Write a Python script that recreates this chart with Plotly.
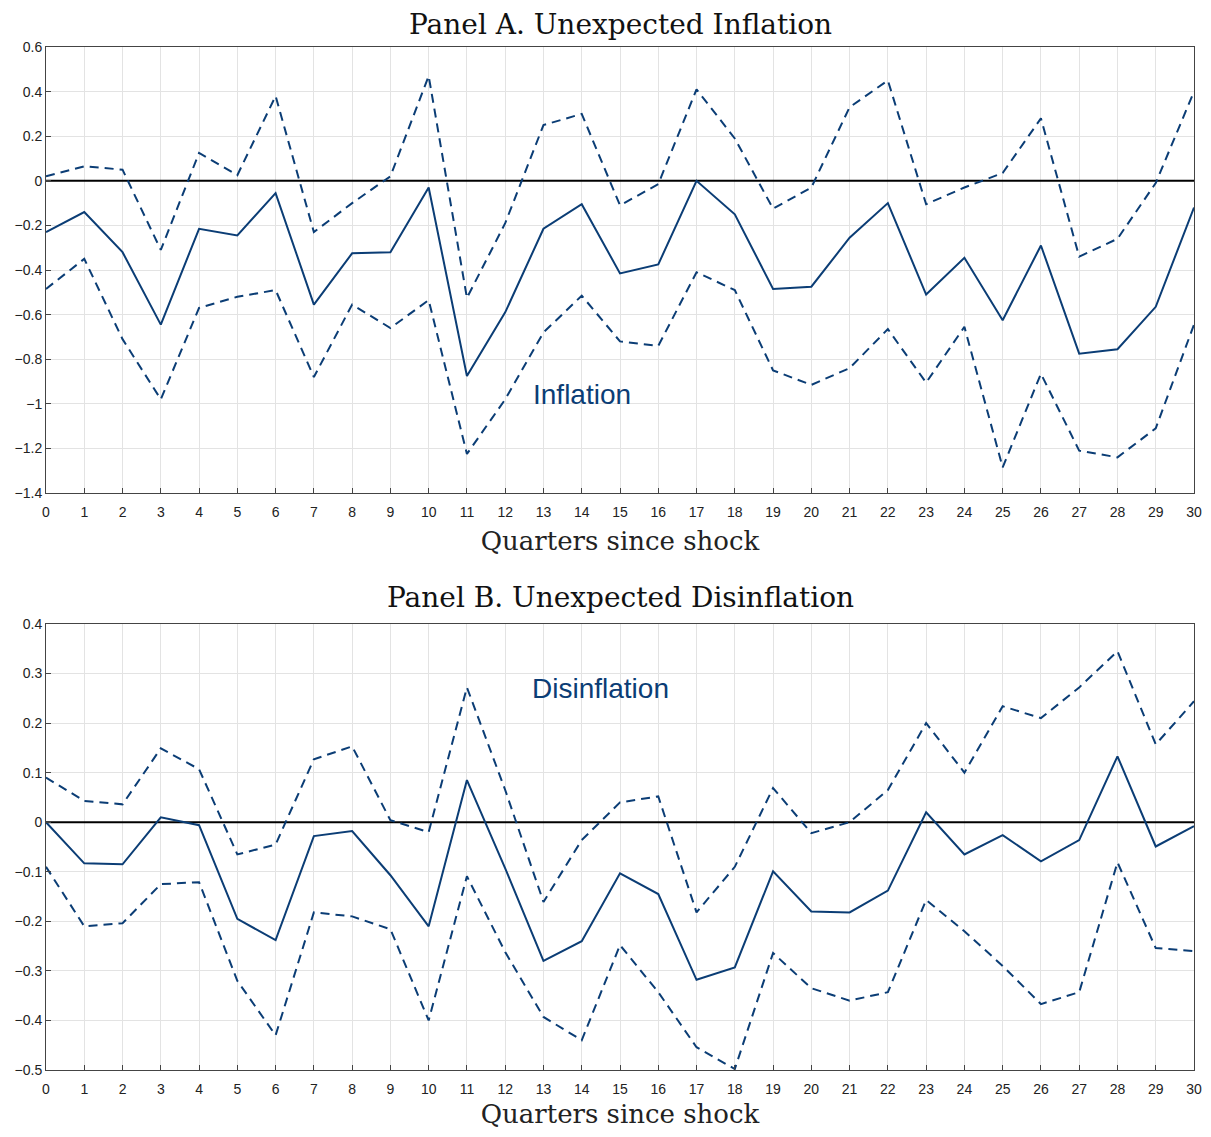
import plotly.graph_objects as go

quarters = list(range(31))
a_mid = [-0.23,-0.14,-0.32,-0.645,-0.215,-0.245,-0.055,-0.555,-0.325,-0.32,-0.03,-0.875,-0.59,-0.215,-0.105,-0.415,-0.375,0.0,-0.15,-0.485,-0.475,-0.255,-0.10,-0.51,-0.345,-0.625,-0.29,-0.775,-0.755,-0.565,-0.12]
a_up = [0.02,0.065,0.05,-0.31,0.125,0.025,0.38,-0.23,-0.1,0.02,0.47,-0.525,-0.19,0.25,0.30,-0.11,-0.015,0.41,0.19,-0.125,-0.03,0.33,0.45,-0.105,-0.03,0.035,0.28,-0.34,-0.26,-0.01,0.40]
a_lo = [-0.485,-0.35,-0.71,-0.98,-0.57,-0.52,-0.49,-0.88,-0.555,-0.66,-0.535,-1.225,-0.98,-0.68,-0.515,-0.72,-0.74,-0.41,-0.49,-0.85,-0.915,-0.84,-0.665,-0.905,-0.655,-1.285,-0.865,-1.21,-1.24,-1.11,-0.645]
b_mid = [0,-0.083,-0.085,0.01,-0.006,-0.195,-0.238,-0.028,-0.018,-0.107,-0.21,0.085,-0.093,-0.28,-0.24,-0.103,-0.145,-0.318,-0.293,-0.099,-0.18,-0.182,-0.138,0.02,-0.065,-0.026,-0.079,-0.036,0.133,-0.049,-0.008]
b_up = [0.09,0.043,0.036,0.149,0.107,-0.065,-0.045,0.127,0.153,0.004,-0.02,0.272,0.065,-0.161,-0.036,0.04,0.052,-0.182,-0.09,0.069,-0.022,0,0.065,0.2,0.1,0.234,0.21,0.272,0.345,0.157,0.244]
b_lo = [-0.09,-0.21,-0.204,-0.125,-0.121,-0.32,-0.43,-0.182,-0.19,-0.216,-0.40,-0.109,-0.262,-0.393,-0.44,-0.248,-0.343,-0.454,-0.498,-0.264,-0.335,-0.36,-0.343,-0.157,-0.22,-0.29,-0.367,-0.343,-0.081,-0.254,-0.26]

C = "#0b3d75"
fig = go.Figure()
for xa, ya, series in [("x", "y", (a_mid, a_up, a_lo)), ("x2", "y2", (b_mid, b_up, b_lo))]:
    fig.add_trace(go.Scatter(x=quarters, y=[0]*31, mode="lines", line=dict(color="black", width=2), xaxis=xa, yaxis=ya))
    for s, d in zip(series, ["solid", "dash", "dash"]):
        fig.add_trace(go.Scatter(x=quarters, y=s, mode="lines", line=dict(color=C, width=2, dash=d if d=="solid" else "9px,6px"), xaxis=xa, yaxis=ya))

ax = dict(showgrid=True, gridcolor="#e3e3e3", showline=True, mirror=True, linecolor="#444", linewidth=1,
          ticks="inside", ticklen=5, tickcolor="#444", zeroline=False, automargin=False,
          tickfont=dict(family="Liberation Sans", size=14, color="#222"))
xt = dict(range=[0, 30], tickmode="array", tickvals=quarters, ticklabelstandoff=6,
          title=dict(text="Quarters since shock", font=dict(family="DejaVu Serif", size=26, color="#222"), standoff=12))
serif = dict(family="DejaVu Serif", size=28, color="#111")
fig.update_layout(
    width=1195, height=1121, showlegend=False, plot_bgcolor="white", paper_bgcolor="white",
    margin=dict(l=38, r=9, t=39, b=59),
    xaxis=dict(**ax, **xt, anchor="y", domain=[0, 1]),
    yaxis=dict(**ax, range=[-1.4, 0.6], dtick=0.2, domain=[0.564, 1], anchor="x"),
    xaxis2=dict(**ax, **xt, anchor="y2", domain=[0, 1]),
    yaxis2=dict(**ax, range=[-0.5, 0.4], dtick=0.1, domain=[0, 0.436], anchor="x2"),
    annotations=[
        dict(text="Panel A. Unexpected Inflation", xref="paper", yref="paper", x=0.5, y=1.0, yshift=4, yanchor="bottom", showarrow=False, font=serif),
        dict(text="Panel B. Unexpected Disinflation", xref="paper", yref="paper", x=0.5, y=0.436, yshift=8, yanchor="bottom", showarrow=False, font=serif),
        dict(text="Inflation", x=14, y=-0.96, xref="x", yref="y", showarrow=False, font=dict(family="Liberation Sans", size=28, color=C)),
        dict(text="Disinflation", x=14.5, y=0.27, xref="x2", yref="y2", showarrow=False, font=dict(family="Liberation Sans", size=28, color=C)),
    ],
)
fig.write_html("out.html")
